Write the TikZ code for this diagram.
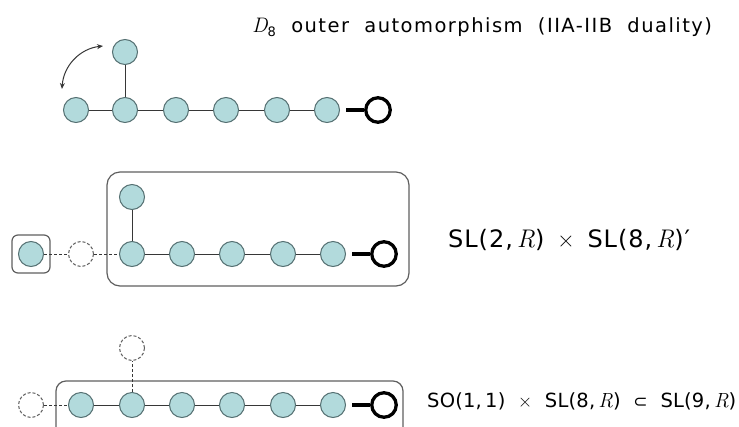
\documentclass[tikz,border=0pt]{standalone}
\usepackage{fontspec}
\setsansfont{DejaVu Sans}
\newfontfamily\topfont{DejaVu Sans}[LetterSpace=7.5,WordSpace=2]
\newfontfamily\midfont{DejaVu Sans}[LetterSpace=4,WordSpace=1.5]
\newfontfamily\botfont{DejaVu Sans}[LetterSpace=1,WordSpace=2]
\newfontfamily\lmfont{Latin Modern Roman}
\newfontfamily\symfont{DejaVu Sans}
\newcommand{\vr}[1]{{\lmfont\itshape\fontsize{#1}{#1}\selectfont R}}
\usetikzlibrary{arrows.meta}
\definecolor{dotfill}{RGB}{178,218,220}
\definecolor{dotline}{RGB}{85,112,114}
\definecolor{edgec}{RGB}{55,55,55}
\definecolor{boxc}{RGB}{95,95,95}
\begin{document}
\begin{tikzpicture}[x=1pt,y=-1pt,
 rootdot/.style={circle,draw=dotline,fill=dotfill,line width=1pt,minimum size=25pt,inner sep=0pt},
 ghost/.style={circle,draw=boxc,dash pattern=on 3pt off 2pt,line width=1pt,minimum size=25pt,inner sep=0pt},
 endc/.style={circle,draw=black,line width=3.3pt,minimum size=24.5pt,inner sep=0pt},
 bond/.style={draw=edgec,line width=1pt},
 dbond/.style={draw=edgec,line width=1pt,dash pattern=on 3pt off 2pt},
 tbond/.style={draw=black,line width=3.3pt,shorten <=6pt},
 groupbox/.style={draw=boxc,line width=1.2pt,rounded corners=13pt},
 lbl/.style={anchor=base west,inner sep=0pt},
 twoarrow/.style={edgec,line width=1pt,{Stealth[length=6pt,width=5pt]}-{Stealth[length=6pt,width=5pt]}},
]
\path[clip] (0,0) rectangle (739,426);

% ---------- top diagram ----------
\node[rootdot] (t1) at (76,110) {};
\node[rootdot] (t2) at (125,110) {};
\node[rootdot] (t3) at (176,110) {};
\node[rootdot] (t4) at (226,110) {};
\node[rootdot] (t5) at (277,110) {};
\node[rootdot] (t6) at (327,110) {};
\node[rootdot] (tt) at (125,52) {};
\node[endc] (te) at (378,110) {};
\draw[bond] (t1) -- (t2);
\draw[bond] (t2) -- (t3);
\draw[bond] (t3) -- (t4);
\draw[bond] (t4) -- (t5);
\draw[bond] (t5) -- (t6);
\draw[bond] (t2) -- (tt);
\draw[tbond] (t6) -- (te);
\coordinate (arrA) at (62,89);
\coordinate (arrB) at (103,46);
\draw[twoarrow] (arrA) to[bend left=40] (arrB);
\node[lbl,font=\topfont\fontsize{19.5}{24}\selectfont] (toplabel) at (252,32)
  {{\lmfont\itshape\fontsize{21}{21}\selectfont D}\raisebox{-4pt}{\fontsize{13}{13}\selectfont 8} outer automorphism (IIA-IIB duality)};

% ---------- middle diagram ----------
\draw[groupbox] (107,172) rectangle (409,286);
\draw[groupbox,rounded corners=6pt] (12,235) rectangle (50,273);
\node[rootdot] (m0) at (31,254) {};
\node[ghost] (mg) at (81,254) {};
\node[rootdot] (m1) at (132,254) {};
\node[rootdot] (m2) at (182,254) {};
\node[rootdot] (m3) at (232,254) {};
\node[rootdot] (m4) at (283,254) {};
\node[rootdot] (m5) at (333,254) {};
\node[rootdot] (mt) at (132,197) {};
\node[endc] (me) at (384,254) {};
\draw[dbond] (m0) -- (mg);
\draw[dbond] (mg) -- (m1);
\draw[bond] (m1) -- (m2);
\draw[bond] (m2) -- (m3);
\draw[bond] (m3) -- (m4);
\draw[bond] (m4) -- (m5);
\draw[bond] (m1) -- (mt);
\draw[tbond] (m5) -- (me);
\node[lbl,font=\midfont\fontsize{24}{28}\selectfont] (midlabel) at (448,247)
  {SL(2,\,\vr{25.5}) {\lmfont ×} SL(8,\,\vr{25.5})′};

% ---------- bottom diagram ----------
\draw[groupbox,rounded corners=10pt] (56,381) rectangle (403,445);
\node[ghost] (bg) at (31,405) {};
\node[rootdot] (b1) at (81,405) {};
\node[rootdot] (b2) at (132,405) {};
\node[rootdot] (b3) at (182,405) {};
\node[rootdot] (b4) at (232,405) {};
\node[rootdot] (b5) at (283,405) {};
\node[rootdot] (b6) at (333,405) {};
\node[ghost] (bgt) at (132,348) {};
\node[endc] (be) at (384,405) {};
\draw[dbond] (bg) -- (b1);
\draw[dbond] (b2) -- (bgt);
\draw[bond] (b1) -- (b2);
\draw[bond] (b2) -- (b3);
\draw[bond] (b3) -- (b4);
\draw[bond] (b4) -- (b5);
\draw[bond] (b5) -- (b6);
\draw[tbond] (b6) -- (be);
\node[lbl,font=\botfont\fontsize{19.5}{24}\selectfont] (botlabel) at (427,407)
  {SO(1,\,1) {\lmfont ×} SL(8,\,\vr{20.5}) {\symfont\fontsize{17}{17}\selectfont ⊂} SL(9,\,\vr{20.5})};
\end{tikzpicture}
\end{document}
